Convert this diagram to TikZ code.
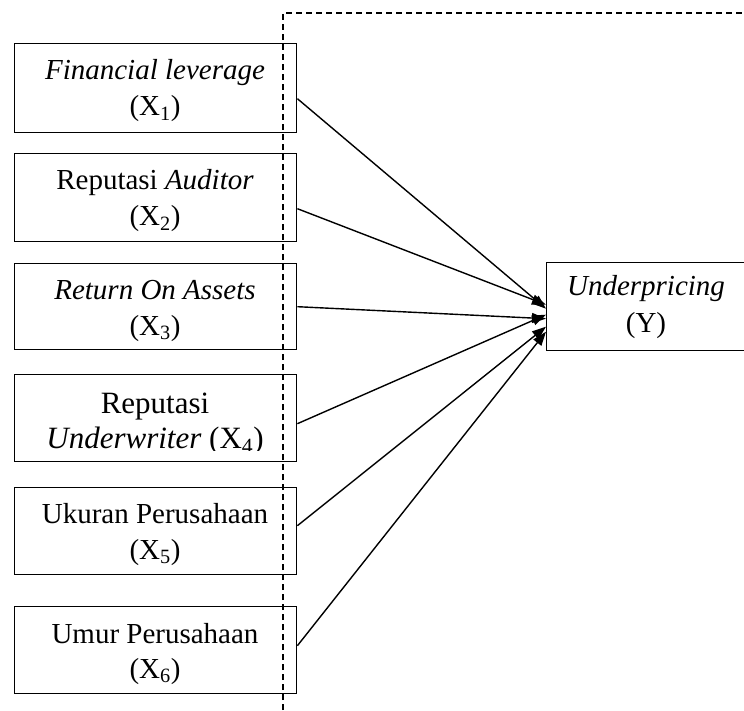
\documentclass[tikz,border=0pt]{standalone}
\usepackage{fontspec}
\setmainfont{Liberation Serif}
\usetikzlibrary{arrows.meta}
\begin{document}
\begin{tikzpicture}[x=1pt,y=-1pt,
  box/.style={draw,line width=1.4pt,minimum width=282pt,inner sep=0pt,anchor=north west},
  txt/.style={anchor=base,inner sep=0pt,font=\fontsize{29}{36}\selectfont},
  bigtxt/.style={anchor=base,inner sep=0pt,font=\fontsize{31}{36}\selectfont},
  conn/.style={line width=1.4pt,-{Triangle[length=14pt,width=10pt]}},
  frameline/.style={line width=1.3pt,dash pattern=on 6pt off 4pt}]
\useasboundingbox (0,0) rectangle (744,711);
% boxes
\node[box,minimum height=89pt] (b1) at (14,43) {};
\node[box,minimum height=88pt] (b2) at (14,153) {};
\node[box,minimum height=86pt] (b3) at (14,263) {};
\node[box,minimum height=87pt] (b4) at (14,374) {};
\node[box,minimum height=87pt] (b5) at (14,487) {};
\node[box,minimum height=87pt] (b6) at (14,606) {};
\node[box,minimum width=200pt,minimum height=88pt] (Y) at (546,262) {};
% dashed frame
\coordinate (f1) at (283,760);
\coordinate (f2) at (283,13);
\coordinate (f3) at (760,13);
\draw[frameline] (f1) -- (f2) -- (f3);
% texts
\node[txt] (t1a) at (155,80) {\itshape Financial leverage};
\node[txt] (t1b) at (155,116) {(X\textsubscript{1})};
\node[txt] (t2a) at (155,190) {Reputasi \textit{Auditor}};
\node[txt] (t2b) at (155,226) {(X\textsubscript{2})};
\node[txt] (t3a) at (155,299) {\itshape Return On Assets};
\node[txt] (t3b) at (155,335) {(X\textsubscript{3})};
\begin{scope}
\clip (14,380) rectangle (296,450);
\node[bigtxt] (t4a) at (155,413) {Reputasi};
\node[bigtxt] (t4b) at (155,448) {\textit{Underwriter} (X\textsubscript{4})};
\end{scope}
\node[txt] (t5a) at (155,523) {Ukuran Perusahaan};
\node[txt] (t5b) at (155,559) {(X\textsubscript{5})};
\node[txt] (t6a) at (155,643) {Umur Perusahaan};
\node[txt] (t6b) at (155,678) {(X\textsubscript{6})};
\node[txt] (tya) at (646,295) {\itshape Underpricing};
\node[txt] (tyb) at (646,332) {(Y)};
% connectors
\draw[conn] ([yshift=-10.5pt]b1.east) -- ([yshift=-2pt]Y.west);
\draw[conn] ([yshift=-11pt]b2.east) -- ([yshift=2pt]Y.west);
\draw[conn] ([yshift=0pt]b3.east) -- ([yshift=-12pt]Y.west);
\draw[conn] ([yshift=-5.5pt]b4.east) -- ([yshift=-8pt]Y.west);
\draw[conn] ([yshift=5.5pt]b5.east) -- ([yshift=-20pt]Y.west);
\draw[conn] ([yshift=4.5pt]b6.east) -- ([yshift=-25pt]Y.west);
\end{tikzpicture}
\end{document}
